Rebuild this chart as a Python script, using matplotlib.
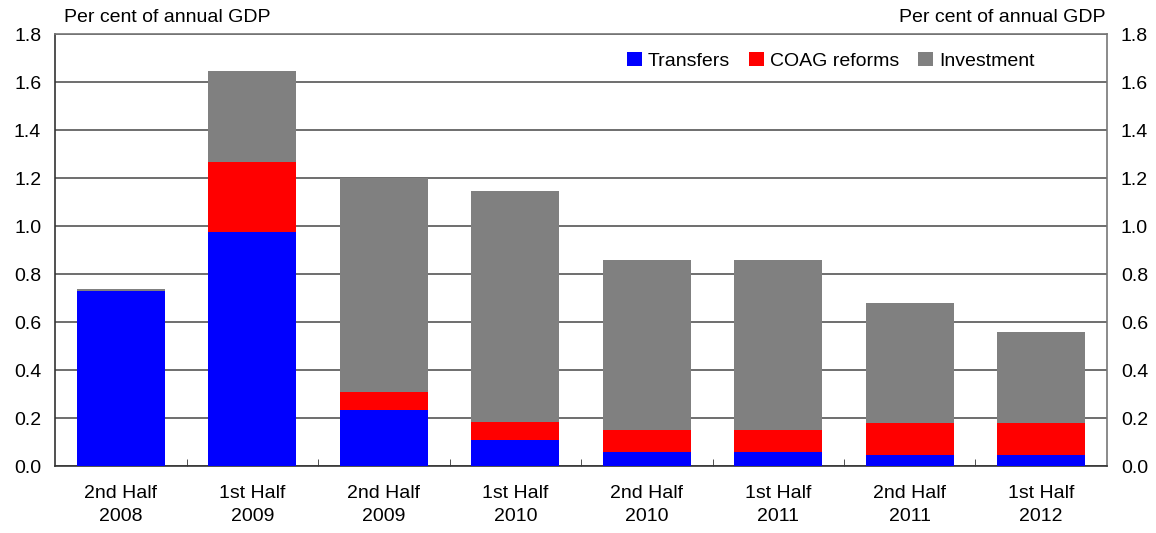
import numpy as np
import matplotlib.pyplot as plt

plt.rcParams['font.family'] = ['Liberation Sans', 'DejaVu Sans']

# ------------------------------------------
# Data (per cent of annual GDP)
# ------------------------------------------
periods = ["2nd Half\n2008", "1st Half\n2009", "2nd Half\n2009", "1st Half\n2010",
           "2nd Half\n2010", "1st Half\n2011", "2nd Half\n2011", "1st Half\n2012"]
transfers = [0.73, 0.975, 0.235, 0.11, 0.06, 0.06, 0.045, 0.045]
coag = [0.0, 0.29, 0.075, 0.075, 0.09, 0.09, 0.135, 0.135]
investment = [0.007, 0.38, 0.89, 0.96, 0.71, 0.71, 0.50, 0.38]

fig = plt.figure(figsize=(11.56, 5.33), dpi=100)
ax = fig.add_axes([0.0476, 0.1257, 0.91, 0.8103])

x = np.arange(len(periods))
w = 0.67
b1 = np.array(transfers)
b2 = b1 + np.array(coag)
ax.bar(x, transfers, w, color="#0000ff", label="Transfers", zorder=3)
ax.bar(x, coag, w, bottom=b1, color="#ff0000", label="COAG reforms", zorder=3)
ax.bar(x, investment, w, bottom=b2, color="#808080", label="Investment", zorder=3)

ax.set_xlim(-0.5, len(periods) - 0.5)
ax.set_ylim(0, 1.8)
ax.set_yticks(np.arange(0, 1.81, 0.2))
ax.set_yticklabels([f"{v:.1f}" for v in np.arange(0, 1.81, 0.2)])
ax.yaxis.grid(True, color="#555555", linewidth=1.2, zorder=0)
ax.tick_params(axis="y", length=0, labelsize=14, pad=10)
ax.tick_params(axis="y", which="both", labelright=True, right=False)

ax.set_xticks(x)
ax.set_xticklabels(periods, fontsize=14, linespacing=1.45)
ax.tick_params(axis="x", which="major", length=0, pad=14)
ax.set_xticks(np.arange(0.5, len(periods) - 1, 1.0), minor=True)
ax.tick_params(axis="x", which="minor", direction="in", length=5, color="#333333")

for s in ["left", "bottom"]:
    ax.spines[s].set_color("#333333")
    ax.spines[s].set_linewidth(1.2)
for s in ["top", "right"]:
    ax.spines[s].set_color("#777777")
    ax.spines[s].set_linewidth(1.2)

fig.text(0.055, 0.967, "Per cent of annual GDP", fontsize=14, ha="left", va="center")
fig.text(0.956, 0.967, "Per cent of annual GDP", fontsize=14, ha="right", va="center")

ax.legend(loc="upper right", bbox_to_anchor=(0.948, 1.0), ncol=3, frameon=False,
          fontsize=14, handlelength=0.8, handleheight=0.8, handletextpad=0.3,
          columnspacing=0.95)

plt.savefig("out.png", dpi=100)
